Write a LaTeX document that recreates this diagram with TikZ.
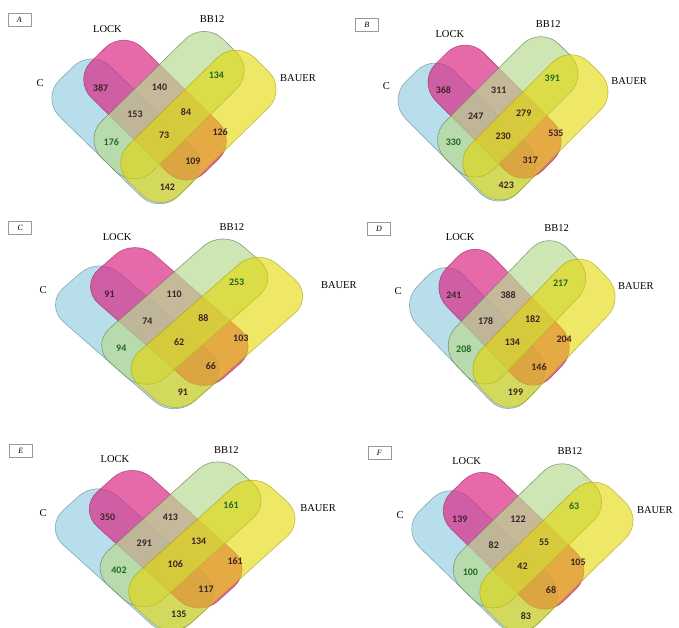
\documentclass[tikz,border=0pt]{standalone}
\usepackage{fontspec}
\setmainfont{Liberation Serif}
\newfontfamily\numfont{Carlito}
\usepackage{tikz}
\usepackage{xcolor}

\definecolor{setblue}{RGB}{115,189,215}
\definecolor{setpink}{RGB}{219,41,134}
\definecolor{setgreen}{RGB}{184,219,148}
\definecolor{setyellow}{RGB}{228,215,0}
\definecolor{numdark}{RGB}{60,35,40}
\definecolor{numgreen}{RGB}{35,105,35}

% one panel: origin x, origin y, x step, y step, letter, BAUER offset, the ten counts
\newcommand{\vennpanel}[7]{%
\begin{scope}[shift={(#1,#2)},x={(#3pt,-#4pt)},y={(#3pt,#4pt)}]
\draw[setC] (-3.15,-1.5) -- (1.5,-1.5) -- (1.5,0.5) -- (-3.15,0.5) -- cycle;
\draw[setLOCK] (-2.9,-0.5) -- (1.55,-0.5) -- (1.55,1.5) -- (-2.9,1.5) -- cycle;
\draw[setBB] (-1.5,-1.5) -- (0.5,-1.5) -- (0.5,3.25) -- (-1.5,3.25) -- cycle;
\draw[setBAUER] (-0.5,-1.45) -- (1.5,-1.45) -- (1.5,3.5) -- (-0.5,3.5) -- cycle;
\end{scope}
\begin{scope}[shift={(#1,#2)},x={(#3pt,0pt)},y={(0pt,-#4pt)}]
\foreach \n [count=\i] in {#7}{
  \pgfmathsetmacro\px{{-2.31,0.0,2.23,-0.96,1.04,-1.89,0.18,2.38,1.31,0.31}[\i-1]}
  \pgfmathsetmacro\py{{-2.07,-2.07,-2.57,-1.0,-1.11,0.11,-0.15,-0.28,0.86,1.9}[\i-1]}
  \ifnum\i=3 \def\numcol{numgreen}\else\ifnum\i=6 \def\numcol{numgreen}\else\def\numcol{numdark}\fi\fi
  \node[countnum,text=\numcol] (#5-n\i) at (\px,\py) {\n};
}
\node[setname] (#5-c) at (-4.68,-2.24) {C};
\node[setname] (#5-lock) at (-2.04,-4.43) {LOCK};
\node[setname] (#5-bb12) at (2.06,-4.82) {BB12};
\node[setname] (#5-bauer) at (#6,-2.44) {BAUER};
\node[panelbox] (#5-box) at (-5.5,-4.78) {#5};
\end{scope}}

\begin{document}
\begin{tikzpicture}[x=1pt,y=-1pt,line cap=round,
  setC/.style={fill=setblue,fill opacity=0.5,draw=setblue!65!black,draw opacity=0.6,line width=0.6pt,rounded corners=26pt},
  setLOCK/.style={fill=setpink,fill opacity=0.7,draw=setpink!65!black,draw opacity=0.6,line width=0.6pt,rounded corners=26pt},
  setBB/.style={fill=setgreen,fill opacity=0.7,draw=setgreen!55!black,draw opacity=0.7,line width=0.6pt,rounded corners=26pt},
  setBAUER/.style={fill=setyellow,fill opacity=0.6,draw=setyellow!70!black,draw opacity=0.6,line width=0.6pt,rounded corners=26pt},
  countnum/.style={font=\numfont\bfseries\fontsize{10}{12}\selectfont,inner sep=1pt},
  setname/.style={font=\fontsize{10.5}{12}\selectfont,inner sep=1pt},
  panelbox/.style={draw=gray!80,line width=0.5pt,minimum width=23pt,minimum height=13pt,inner sep=0pt,font=\itshape\fontsize{8}{9}\selectfont}]
\useasboundingbox (0,0) rectangle (679,628);
\clip (0,0) rectangle (679,628);
\vennpanel{159.5}{139.5}{25.5}{25}{A}{5.43}{387,140,134,153,84,176,73,126,109,142}
\vennpanel{498.8}{139.9}{24}{24}{B}{5.43}{368,311,391,247,279,330,230,535,317,423}
\vennpanel{174.2}{345.3}{28}{24.5}{C}{5.88}{91,110,253,74,88,94,62,103,66,91}
\vennpanel{508.2}{346}{23.5}{24.5}{D}{5.43}{241,388,217,178,182,208,134,204,146,199}
\vennpanel{170.4}{568}{27.2}{24.5}{E}{5.43}{350,413,161,291,134,402,106,161,117,135}
\vennpanel{518}{569.5}{25.2}{24.5}{F}{5.43}{139,122,63,82,55,100,42,105,68,83}
\end{tikzpicture}
\end{document}
